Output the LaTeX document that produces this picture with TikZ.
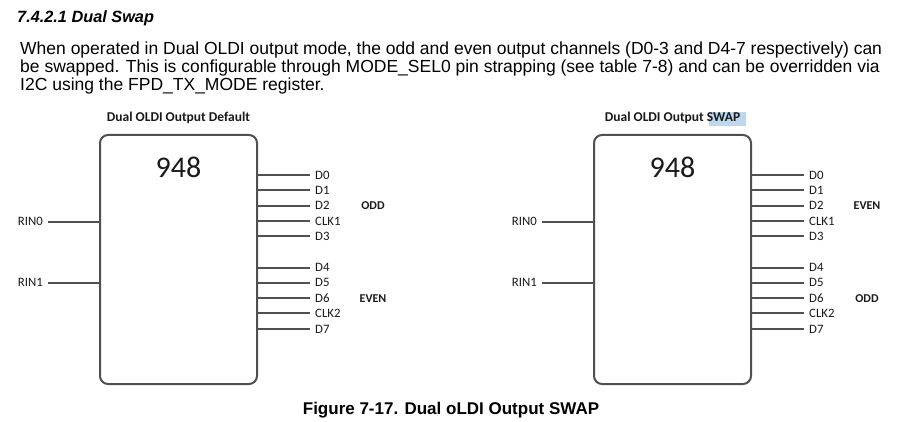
\documentclass[tikz,border=0pt]{standalone}
\usepackage{fontspec}
\setmainfont{Liberation Sans}
\newfontfamily\calibri{Carlito}
\definecolor{wire}{HTML}{505050}
\definecolor{hlblue}{HTML}{BDD7EE}
\definecolor{ink}{HTML}{1A1A1A}
\tikzset{
  chipbox/.style={draw=wire, line width=2pt, rounded corners=8pt, minimum width=157pt, minimum height=249pt, inner sep=0pt},
  wireline/.style={draw=wire, line width=2pt},
  pinlabel/.style={font=\calibri\fontsize{12.8}{14}\selectfont, text=ink, inner sep=0pt, anchor=west},
  grouplabel/.style={font=\calibri\bfseries\fontsize{12}{14}\selectfont, text=ink, inner sep=0pt},
  chiptitle/.style={font=\calibri\bfseries\fontsize{13.5}{15}\selectfont, text=ink, inner sep=0pt},
  partno/.style={font=\calibri\fontsize{30}{34}\selectfont, text=ink, inner sep=0pt},
  bodytext/.style={font=\fontsize{17.5}{19}\selectfont, text=black, inner sep=0pt, anchor=base west},
}
\newcommand\chip[5]{%
  % #1 prefix, #2 x offset, #3 title, #4 upper group, #5 lower group
  \node[chipbox] (#1box) at (#2+178.5,259.5) {};
  \node[chiptitle] (#1title) at (#2+178.5,118) {#3};
  \node[partno] (#1num) at (#2+178.5,167) {948};
  \foreach \n/\y in {D0/175,D1/190.3,D2/205.7,CLK1/221,D3/236.5,D4/267.7,D5/282.8,D6/298.3,CLK2/313.5,D7/329}{
    \coordinate (#1p\n) at (#2+310,\y);
    \draw[wireline] (#1box.east |- #1p\n) -- (#1p\n);
    \node[pinlabel] (#1l\n) at ([xshift=5pt]#1p\n) {\n};
  }
  \foreach \n/\y in {RIN0/221.7,RIN1/282.7}{
    \coordinate (#1r\n) at (#2+48,\y);
    \draw[wireline] (#1r\n) -- (#1box.west |- #1r\n);
    \node[pinlabel, anchor=east] (#1l\n) at ([xshift=-5pt]#1r\n) {\n};
  }
  \node[grouplabel] (#1gup) at (#2+373,206) {#4};
  \node[grouplabel] (#1gdn) at (#2+373,298.5) {#5};
}
\begin{document}
\begin{tikzpicture}[x=1pt,y=-1pt]
\useasboundingbox[fill=white] (0,0) rectangle (922,422);
\node[bodytext, font=\bfseries\itshape\fontsize{16.3}{18}\selectfont] (head) at (17,23) {7.4.2.1 Dual Swap};
\node[bodytext] (para1) at (20,55) {When operated in Dual OLDI output mode, the odd and even output channels (D0-3 and D4-7 respectively) can};
\node[bodytext] (para2) at (20,73) {be swapped. This is configurable through MODE\_SEL0 pin strapping (see table 7-8) and can be overridden via};
\node[bodytext] (para3) at (20,91) {I2C using the FPD\_TX\_MODE register.};
\fill[hlblue] (709,112) rectangle (746,126);
\chip{L}{0}{Dual OLDI Output Default}{ODD}{EVEN}
\chip{R}{494}{Dual OLDI Output SWAP}{EVEN}{ODD}
\node[bodytext, anchor=base, font=\bfseries\fontsize{17}{19}\selectfont] (caption) at (451,414) {Figure 7-17. Dual oLDI Output SWAP};
\end{tikzpicture}
\end{document}
